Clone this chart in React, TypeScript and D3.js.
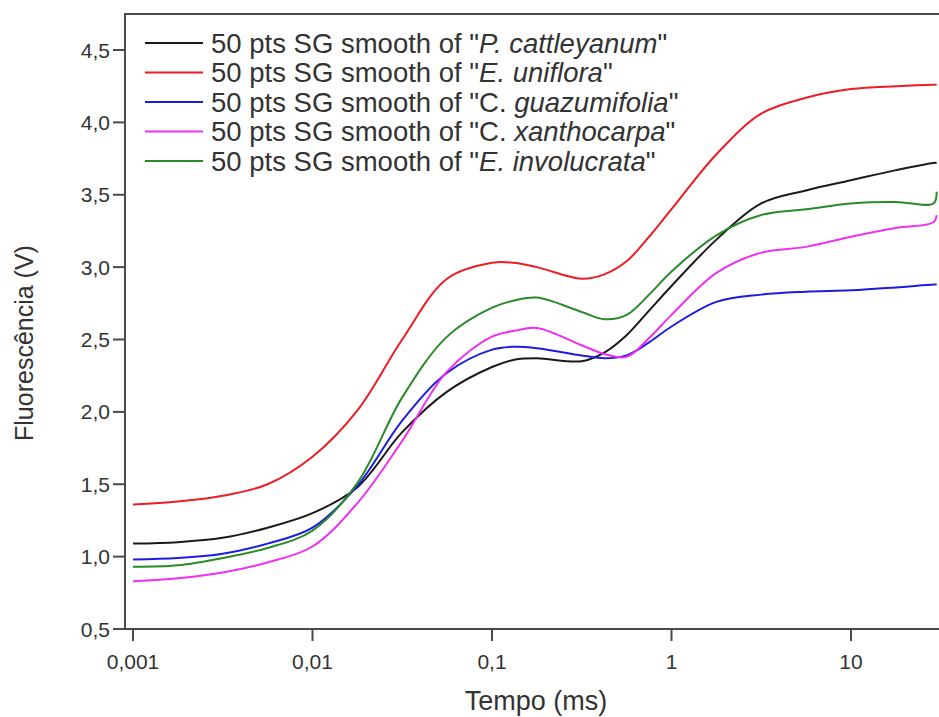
import React from "react";
import * as d3 from "d3";

// Time (ms) sample positions
const times = [0.001, 0.00178, 0.00316, 0.00562, 0.01, 0.0178, 0.0316, 0.0562, 0.1, 0.133, 0.178, 0.316, 0.422, 0.562, 0.75, 1, 1.78, 3.16, 5.62, 10, 17.8, 28.8, 30];

const pCattleyanum = [1.09, 1.10, 1.13, 1.20, 1.30, 1.48, 1.86, 2.14, 2.31, 2.36, 2.37, 2.35, 2.41, 2.53, 2.70, 2.87, 3.19, 3.44, 3.53, 3.60, 3.67, 3.72, 3.72];
const eUniflora = [1.36, 1.38, 1.42, 1.50, 1.69, 2.01, 2.50, 2.92, 3.03, 3.03, 3.00, 2.92, 2.95, 3.04, 3.21, 3.40, 3.78, 4.06, 4.17, 4.23, 4.25, 4.26, 4.26];
const cGuazumifolia = [0.98, 0.99, 1.02, 1.09, 1.20, 1.49, 1.94, 2.27, 2.43, 2.45, 2.44, 2.39, 2.37, 2.39, 2.48, 2.59, 2.76, 2.81, 2.83, 2.84, 2.86, 2.88, 2.88];
const cXanthocarpa = [0.83, 0.85, 0.89, 0.96, 1.07, 1.37, 1.80, 2.28, 2.52, 2.56, 2.58, 2.46, 2.40, 2.38, 2.51, 2.67, 2.96, 3.10, 3.14, 3.21, 3.27, 3.31, 3.36];
const eInvolucrata = [0.93, 0.94, 0.99, 1.06, 1.18, 1.51, 2.10, 2.52, 2.72, 2.77, 2.79, 2.69, 2.64, 2.67, 2.81, 2.97, 3.22, 3.36, 3.40, 3.44, 3.45, 3.44, 3.52];

const seriesNames = ["P. cattleyanum", "E. uniflora", "C. guazumifolia", "C. xanthocarpa", "E. involucrata"];
const seriesGenus = ["P.", "E.", "C.", "C.", "E."];
const seriesGenusItalic = [true, true, false, false, true];
const seriesEpithet = ["cattleyanum", "uniflora", "guazumifolia", "xanthocarpa", "involucrata"];
const seriesValues = [pCattleyanum, eUniflora, cGuazumifolia, cXanthocarpa, eInvolucrata];
const seriesColors = ["#1a1a1a", "#ee1c25", "#1c1ce0", "#f030f0", "#2a8a2a"];

const xTicks = [0.001, 0.01, 0.1, 1, 10];
const xTickLabels = ["0,001", "0,01", "0,1", "1", "10"];
const yTicks = [0.5, 1.0, 1.5, 2.0, 2.5, 3.0, 3.5, 4.0, 4.5];
const yTickLabels = ["0,5", "1,0", "1,5", "2,0", "2,5", "3,0", "3,5", "4,0", "4,5"];

const W = 939;
const H = 717;
const left = 125;
const top = 14;
const bottom = 629;
const right = 960;
const font = "'Liberation Sans', Arial, sans-serif";
const textColor = "#333";
const axisColor = "#4a4a4a";

export default function App() {
  const x = d3.scaleLog().domain([0.001, 10]).range([133, 851]);
  const y = d3.scaleLinear().domain([0.5, 4.5]).range([629, 50]);

  const line = d3
    .line<number>()
    .x((_, i) => x(times[i]))
    .y((d) => y(d))
    .curve(d3.curveCatmullRom.alpha(0.5));

  return (
    <svg
      width={W}
      height={H}
      style={{ position: "absolute", left: 0, top: 0, background: "#fff", display: "block" }}
    >
      <defs>
        <clipPath id="plot">
          <rect x={left} y={top} width={right - left} height={bottom - top} />
        </clipPath>
      </defs>
      <rect x={0} y={0} width={W} height={H} fill="#fff" />

      {/* data lines */}
      <g clipPath="url(#plot)">
        {seriesValues.map((vals, si) => (
          <path
            key={seriesNames[si]}
            d={line(vals) || ""}
            fill="none"
            stroke={seriesColors[si]}
            strokeWidth={2}
            strokeLinejoin="round"
          />
        ))}
      </g>

      {/* frame */}
      <line x1={left} y1={top} x2={right} y2={top} stroke={axisColor} strokeWidth={2} />
      <line x1={left} y1={top - 1} x2={left} y2={bottom + 1} stroke={axisColor} strokeWidth={2} />
      <line x1={left - 1} y1={bottom} x2={right} y2={bottom} stroke={axisColor} strokeWidth={2} />

      {/* x ticks */}
      {xTicks.map((t, i) => (
        <g key={"xt" + i}>
          <line x1={x(t)} y1={bottom} x2={x(t)} y2={bottom + 12} stroke={axisColor} strokeWidth={2} />
          <text
            x={x(t)}
            y={669}
            textAnchor="middle"
            fontFamily={font}
            fontSize={21}
            fill={textColor}
          >
            {xTickLabels[i]}
          </text>
        </g>
      ))}

      {/* y ticks */}
      {yTicks.map((t, i) => (
        <g key={"yt" + i}>
          <line x1={left - 12} y1={y(t)} x2={left} y2={y(t)} stroke={axisColor} strokeWidth={2} />
          <text
            x={left - 15}
            y={y(t)}
            dy="0.36em"
            textAnchor="end"
            fontFamily={font}
            fontSize={21}
            fill={textColor}
          >
            {yTickLabels[i]}
          </text>
        </g>
      ))}

      {/* axis titles */}
      <text x={536} y={710} textAnchor="middle" fontFamily={font} fontSize={27} fill={textColor}>
        Tempo (ms)
      </text>
      <text
        transform={`translate(33, 343) rotate(-90)`}
        textAnchor="middle"
        fontFamily={font}
        fontSize={25}
        fill={textColor}
      >
        Fluorescência (V)
      </text>

      {/* legend */}
      {seriesNames.map((name, i) => {
        const ly = 43 + i * 29.5;
        return (
          <g key={"lg" + i}>
            <line x1={145} y1={ly} x2={203} y2={ly} stroke={seriesColors[i]} strokeWidth={2} />
            <text
              x={211}
              y={ly}
              dy="0.36em"
              fontFamily={font}
              fontSize={27.5}
              fill={textColor}
            >
              {"50 pts SG smooth of \""}
              <tspan fontStyle={seriesGenusItalic[i] ? "italic" : "normal"}>{seriesGenus[i] + " "}</tspan>
              <tspan fontStyle="italic">{seriesEpithet[i]}</tspan>
              {"\""}
            </text>
          </g>
        );
      })}
    </svg>
  );
}
